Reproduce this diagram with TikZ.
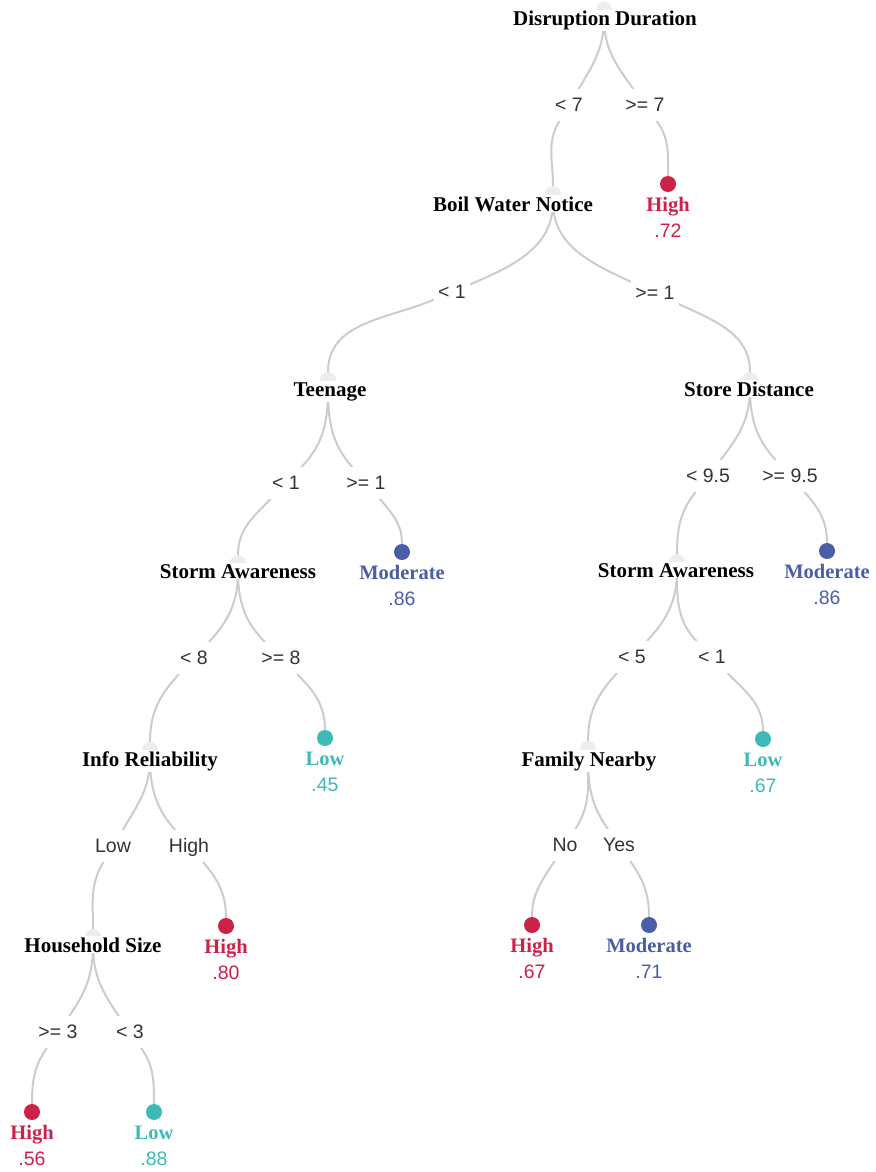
\documentclass[tikz,border=0pt]{standalone}
\usepackage{fontspec}
\setmainfont{Liberation Serif}
\setsansfont{Liberation Sans}
\usepackage{tikz}
\usetikzlibrary{backgrounds}

\definecolor{highred}{HTML}{CC2247}
\definecolor{modblue}{HTML}{4A5EA8}
\definecolor{lowteal}{HTML}{3DBAB5}
\definecolor{splitgray}{HTML}{EDEDED}
\definecolor{edgegray}{HTML}{CCCCCC}
\definecolor{condgray}{HTML}{333333}

\begin{document}
\begin{tikzpicture}[x=1pt,y=-1pt,
  splitdot/.style={circle,fill=splitgray,minimum size=16pt,inner sep=0pt},
  leafdot/.style={circle,fill=#1,minimum size=16pt,inner sep=0pt},
  feature/.style={font=\fontsize{21}{25}\selectfont\bfseries,fill=white,inner sep=1pt,anchor=base},
  leafclass/.style={font=\fontsize{20.5}{24}\selectfont\bfseries,text=#1,inner sep=0pt,anchor=base},
  leafvalue/.style={font=\sffamily\fontsize{19.5}{22}\selectfont,text=#1,inner sep=0pt,anchor=base},
  cond/.style={font=\sffamily\fontsize{19.5}{22}\selectfont,text=condgray,fill=white,
    text height=13.5pt,text depth=0pt,inner xsep=4pt,inner ysep=9pt},
  edge/.style={draw=edgegray,line width=2pt}]
\useasboundingbox (0,0) rectangle (875,1172);

% split points
\node[splitdot] (dd) at (604,10) {};
\node[splitdot] (bw) at (553,194) {};
\node[splitdot] (tn) at (328,380) {};
\node[splitdot] (sd) at (750,380) {};
\node[splitdot] (saL) at (238,563) {};
\node[splitdot] (saR) at (677,562) {};
\node[splitdot] (ir) at (150,750) {};
\node[splitdot] (fn) at (588,749) {};
\node[splitdot] (hs) at (93,937) {};

\node[feature] (dd-txt) at (605,26) {Disruption Duration};
\node[feature] (bw-txt) at (513,211) {Boil Water Notice};
\node[feature] (tn-txt) at (330,396) {Teenage};
\node[feature] (sd-txt) at (749,396) {Store Distance};
\node[feature] (saL-txt) at (238,578) {Storm Awareness};
\node[feature] (saR-txt) at (676,577) {Storm Awareness};
\node[feature] (ir-txt) at (150,766) {Info Reliability};
\node[feature] (fn-txt) at (589,766) {Family Nearby};
\node[feature] (hs-txt) at (93,952) {Household Size};

% leaves
\node[leafdot=highred] (high72) at (668,184) {};
\node[leafclass=highred] (high72-cls) at (668,211) {High};
\node[leafvalue=highred] (high72-val) at (668,237) {.72};

\node[leafdot=modblue] (mod86L) at (402,552) {};
\node[leafclass=modblue] (mod86L-cls) at (402,579) {Moderate};
\node[leafvalue=modblue] (mod86L-val) at (402,605) {.86};

\node[leafdot=modblue] (mod86R) at (827,551) {};
\node[leafclass=modblue] (mod86R-cls) at (827,578) {Moderate};
\node[leafvalue=modblue] (mod86R-val) at (827,604) {.86};

\node[leafdot=lowteal] (low45) at (325,738) {};
\node[leafclass=lowteal] (low45-cls) at (325,765) {Low};
\node[leafvalue=lowteal] (low45-val) at (325,791) {.45};

\node[leafdot=lowteal] (low67) at (763,739) {};
\node[leafclass=lowteal] (low67-cls) at (763,766) {Low};
\node[leafvalue=lowteal] (low67-val) at (763,792) {.67};

\node[leafdot=highred] (high80) at (226,926) {};
\node[leafclass=highred] (high80-cls) at (226,953) {High};
\node[leafvalue=highred] (high80-val) at (226,979) {.80};

\node[leafdot=highred] (high67) at (532,925) {};
\node[leafclass=highred] (high67-cls) at (532,952) {High};
\node[leafvalue=highred] (high67-val) at (532,978) {.67};

\node[leafdot=modblue] (mod71) at (649,925) {};
\node[leafclass=modblue] (mod71-cls) at (649,952) {Moderate};
\node[leafvalue=modblue] (mod71-val) at (649,978) {.71};

\node[leafdot=highred] (high56) at (32,1112) {};
\node[leafclass=highred] (high56-cls) at (32,1139) {High};
\node[leafvalue=highred] (high56-val) at (32,1165) {.56};

\node[leafdot=lowteal] (low88) at (154,1112) {};
\node[leafclass=lowteal] (low88-cls) at (154,1139) {Low};
\node[leafvalue=lowteal] (low88-val) at (154,1165) {.88};

% conditions
\node[cond] (dd-lt) at (569,105) {< 7};
\node[cond] (dd-ge) at (645,105) {>= 7};
\node[cond] (bw-lt) at (452,292) {< 1};
\node[cond] (bw-ge) at (655,293) {>= 1};
\node[cond] (tn-lt) at (286,483) {< 1};
\node[cond] (tn-ge) at (366,483) {>= 1};
\node[cond] (sd-lt) at (708,476) {< 9.5};
\node[cond] (sd-ge) at (790,476) {>= 9.5};
\node[cond] (saL-lt) at (194,658) {< 8};
\node[cond] (saL-ge) at (281,658) {>= 8};
\node[cond] (saR-lt5) at (632,657) {< 5};
\node[cond] (saR-lt1) at (712,657) {< 1};
\node[cond] (ir-low) at (113,846) {Low};
\node[cond] (ir-high) at (189,846) {High};
\node[cond] (fn-no) at (565,845) {No};
\node[cond] (fn-yes) at (619,845) {Yes};
\node[cond] (hs-ge) at (58,1032) {>= 3};
\node[cond] (hs-lt) at (130,1032) {< 3};

\begin{scope}[on background layer]
\draw[edge] (dd) to[out=-90,in=59] (dd-lt) to[out=239,in=90] (bw);
\draw[edge] (dd) to[out=-90,in=126] (dd-ge) to[out=306,in=90] (high72);
\draw[edge] (bw) to[out=-90,in=23] (bw-lt) to[out=203,in=90] (tn);
\draw[edge] (bw) to[out=-90,in=155] (bw-ge) to[out=335,in=90] (sd);
\draw[edge] (tn) to[out=-90,in=46] (tn-lt) to[out=226,in=90] (saL);
\draw[edge] (tn) to[out=-90,in=131] (tn-ge) to[out=311,in=90] (mod86L);
\draw[edge] (sd) to[out=-90,in=52] (sd-lt) to[out=232,in=90] (saR);
\draw[edge] (sd) to[out=-90,in=132] (sd-ge) to[out=312,in=90] (mod86R);
\draw[edge] (saL) to[out=-90,in=47] (saL-lt) to[out=227,in=90] (ir);
\draw[edge] (saL) to[out=-90,in=135] (saL-ge) to[out=315,in=90] (low45);
\draw[edge] (saR) to[out=-90,in=47] (saR-lt5) to[out=227,in=90] (fn);
\draw[edge] (saR) to[out=-90,in=134] (saR-lt1) to[out=314,in=90] (low67);
\draw[edge] (ir) to[out=-90,in=59] (ir-low) to[out=239,in=90] (hs);
\draw[edge] (ir) to[out=-90,in=131] (ir-high) to[out=311,in=90] (high80);
\draw[edge] (fn) to[out=-90,in=57] (fn-no) to[out=237,in=90] (high67);
\draw[edge] (fn) to[out=-90,in=125] (fn-yes) to[out=305,in=90] (mod71);
\draw[edge] (hs) to[out=-90,in=55] (hs-ge) to[out=235,in=90] (high56);
\draw[edge] (hs) to[out=-90,in=125] (hs-lt) to[out=305,in=90] (low88);
\end{scope}
\end{tikzpicture}
\end{document}
